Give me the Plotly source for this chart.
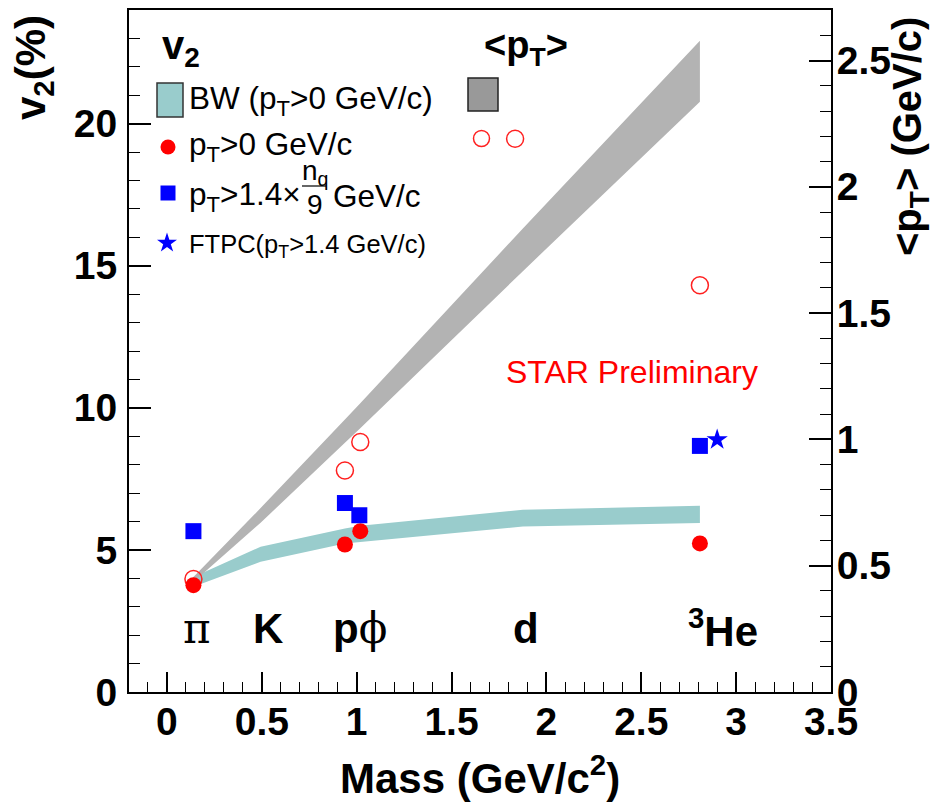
import plotly.graph_objects as go

# ---------------- data ----------------
# Blast-wave v2 band (pT>0) at particle masses
band_mass = [0.1396, 0.4937, 0.938, 1.019, 1.876, 2.809]
bw_v2_upper = [4.05, 5.11, 5.75, 5.85, 6.41, 6.55]
bw_v2_lower = [3.70, 4.58, 5.23, 5.28, 5.82, 5.95]
# Blast-wave <pT> band
bw_pt_upper = [0.455, 0.728, 1.079, 1.143, 1.835, 2.578]
bw_pt_lower = [0.435, 0.670, 0.987, 1.044, 1.666, 2.337]

# measured v2, pT>0 GeV/c (pi, p, phi, 3He)
v2_all_mass = [0.1396, 0.938, 1.019, 2.809]
v2_all = [3.76, 5.19, 5.66, 5.23]
# measured v2, pT>1.4*nq/9 GeV/c
v2_hi_mass = [0.1396, 0.938, 1.014, 2.809]
v2_hi = [5.66, 6.65, 6.22, 8.66]
# FTPC 3He
ftpc_mass = [2.90]
ftpc_v2 = [8.88]
# measured <pT> (pi, p, phi, d, 3He)
pt_mass = [0.1396, 0.938, 1.019, 1.835, 2.809]
pt_mean = [0.447, 0.877, 0.990, 2.19, 1.61]

# species labels
species_text = ["<span style='font-family:DejaVu Serif;font-weight:normal'>π</span>",
                "K",
                "p<span style='font-family:DejaVu Serif;font-weight:normal'>ϕ</span>",
                "d",
                "<sup>3</sup>He"]
species_x = [0.16, 0.532, 1.017, 1.89, 2.93]

x_ticks = [0, 0.5, 1, 1.5, 2, 2.5, 3, 3.5]
y_ticks = [0, 5, 10, 15, 20]
y2_ticks = [0, 0.5, 1, 1.5, 2, 2.5]

# ---------------- figure ----------------
W, H = 944, 803
L, R, T, B = 129, 831, 10, 692
FONT = "Liberation Sans, Arial, Helvetica, sans-serif"

def P(x, y):
    return (x - L) / (R - L), (B - y) / (B - T)

fig = go.Figure()

# teal BW v2 band
fig.add_trace(go.Scatter(
    x=band_mass + band_mass[::-1], y=bw_v2_upper + bw_v2_lower[::-1],
    fill="toself", fillcolor="#99cccc", line=dict(width=0), mode="lines",
    xaxis="x", yaxis="y", hoverinfo="skip", showlegend=False))

# gray BW <pT> band + measured <pT>
fig.add_trace(go.Scatter(
    x=band_mass + band_mass[::-1], y=bw_pt_upper + bw_pt_lower[::-1],
    fill="toself", fillcolor="#b3b3b3", line=dict(width=0), mode="lines",
    xaxis="x", yaxis="y2", hoverinfo="skip", showlegend=False))
fig.add_trace(go.Scatter(
    x=pt_mass, y=pt_mean, mode="markers",
    marker=dict(symbol="circle-open", size=17, color="#ff2020", line=dict(width=1.5)),
    xaxis="x", yaxis="y2", showlegend=False))

# measured v2 markers (drawn on top)
fig.add_trace(go.Scatter(
    x=v2_all_mass, y=v2_all, mode="markers",
    marker=dict(symbol="circle", size=16, color="#ff0000"),
    xaxis="x", yaxis="y4", showlegend=False))
fig.add_trace(go.Scatter(
    x=v2_hi_mass, y=v2_hi, mode="markers",
    marker=dict(symbol="square", size=16, color="#0000ff"),
    xaxis="x", yaxis="y4", showlegend=False))
fig.add_trace(go.Scatter(
    x=ftpc_mass, y=ftpc_v2, mode="markers",
    marker=dict(symbol="star", size=16, color="#0000ff"),
    xaxis="x", yaxis="y4", showlegend=False))

# legend keys on a pixel-space auxiliary axis
fig.add_trace(go.Scatter(x=[168], y=[147], mode="markers",
    marker=dict(symbol="circle", size=15, color="#ff0000"),
    xaxis="x3", yaxis="y3", showlegend=False, hoverinfo="skip"))
fig.add_trace(go.Scatter(x=[168], y=[193], mode="markers",
    marker=dict(symbol="square", size=15, color="#0000ff"),
    xaxis="x3", yaxis="y3", showlegend=False, hoverinfo="skip"))
fig.add_trace(go.Scatter(x=[167], y=[243], mode="markers",
    marker=dict(symbol="star", size=15, color="#0000ff"),
    xaxis="x3", yaxis="y3", showlegend=False, hoverinfo="skip"))
fig.add_trace(go.Scatter(x=[481.5], y=[138.5], mode="markers",
    marker=dict(symbol="circle-open", size=16, color="#ff2020", line=dict(width=1.5)),
    xaxis="x3", yaxis="y3", showlegend=False, hoverinfo="skip"))

shapes = []
# legend boxes
x0, y0 = P(157, 83); x1, y1 = P(183, 117)
shapes.append(dict(type="rect", xref="paper", yref="paper", x0=x0, y0=y0, x1=x1, y1=y1,
                   fillcolor="#99cccc", line=dict(color="#333333", width=1.5)))
x0, y0 = P(468, 78); x1, y1 = P(498, 111)
shapes.append(dict(type="rect", xref="paper", yref="paper", x0=x0, y0=y0, x1=x1, y1=y1,
                   fillcolor="#999999", line=dict(color="#222222", width=1.5)))
# fraction bar n_q / 9
x0, y0 = P(302, 186); x1, y1 = P(326, 186)
shapes.append(dict(type="line", xref="paper", yref="paper", x0=x0, y0=y0, x1=x1, y1=y1,
                   line=dict(color="#000000", width=1.2)))

ann = []
def text(xp, yp, s, size, bold=False, color="black", xanchor="left", yanchor="middle", angle=0):
    x, y = P(xp, yp)
    ann.append(dict(x=x, y=y, xref="paper", yref="paper", text=s, showarrow=False,
                    xanchor=xanchor, yanchor=yanchor, textangle=angle,
                    font=dict(family=FONT, size=size, color=color,
                              weight="bold" if bold else "normal")))

# legend headers & entries
text(160, 48, "v<sub>2</sub>", 40, bold=True)
text(482, 48, "&lt;p<sub>T</sub>&gt;", 38, bold=True)
text(187, 100, "BW (p<sub>T</sub>&gt;0 GeV/c)", 31.5)
text(187, 146, "p<sub>T</sub>&gt;0 GeV/c", 31.5)
text(187, 196, "p<sub>T</sub>&gt;1.4×", 31.5)
text(315, 172, "n<sub>q</sub>", 28, xanchor="center")
text(315, 205, "9", 28, xanchor="center")
text(331, 196, "GeV/c", 31.5)
text(187, 246, "FTPC(p<sub>T</sub>&gt;1.4 GeV/c)", 25.5)

# STAR Preliminary
text(632, 372, "STAR Preliminary", 32, color="#ff0000", xanchor="center")

# axis titles
text(480, 775, "Mass (GeV/c<sup>2</sup>)", 42, bold=True, xanchor="center")
text(33, 67, "v<sub>2</sub>(%)", 42, bold=True, xanchor="center", angle=-90)
text(910, 137, "&lt;p<sub>T</sub>&gt; (GeV/c)", 40, bold=True, xanchor="center", angle=-90)

# species labels (data coordinates)
for s, xv in zip(species_text, species_x):
    ann.append(dict(x=xv, y=2.25, xref="x", yref="y", text=s, showarrow=False,
                    xanchor="center", yanchor="middle",
                    font=dict(family=FONT, size=42, color="black", weight="bold")))

axis_common = dict(showgrid=False, zeroline=False, showline=True, linecolor="black",
                   linewidth=2, ticks="inside", tickcolor="black", tickwidth=1.5)

fig.update_layout(
    width=W, height=H,
    margin=dict(l=L, r=W - R, t=T, b=H - B, autoexpand=False),
    paper_bgcolor="white", plot_bgcolor="white",
    showlegend=False,
    xaxis=dict(range=[-0.2, 3.5], tickvals=x_ticks, ticktext=[str(v) for v in x_ticks],
               ticklen=20, mirror=True,
               minor=dict(ticks="inside", ticklen=10, dtick=0.1, tick0=0,
                          tickcolor="black", tickwidth=1.2),
               tickfont=dict(family=FONT, size=39, color="black", weight="bold"),
               ticklabelstandoff=-6,
               **axis_common),
    yaxis=dict(range=[0, 24], tickvals=y_ticks, ticklen=22, mirror=True,
               minor=dict(ticks="inside", ticklen=11, dtick=1, tick0=0,
                          tickcolor="black", tickwidth=1.2),
               tickfont=dict(family=FONT, size=39, color="black", weight="bold"),
               ticklabelstandoff=2,
               **axis_common),
    yaxis2=dict(range=[0, 2.7], tickvals=y2_ticks, ticktext=["0", "0.5", "1", "1.5", "2", "2.5"],
                overlaying="y", side="right", anchor="x", ticklen=22,
                minor=dict(ticks="inside", ticklen=11, dtick=0.1, tick0=0,
                           tickcolor="black", tickwidth=1.2),
                tickfont=dict(family=FONT, size=39, color="black", weight="bold"),
                ticklabelstandoff=-4,
                **axis_common),
    xaxis3=dict(range=[L, R], overlaying="x", visible=False, anchor="y3"),
    yaxis3=dict(range=[B, T], overlaying="y", visible=False, anchor="x3"),
    yaxis4=dict(range=[0, 24], overlaying="y", visible=False, anchor="x"),
    shapes=shapes,
    annotations=ann,
)

fig.write_html("out.html", config={"displayModeBar": False},
               post_script="document.body.style.margin='0px';document.body.style.padding='0px';")
